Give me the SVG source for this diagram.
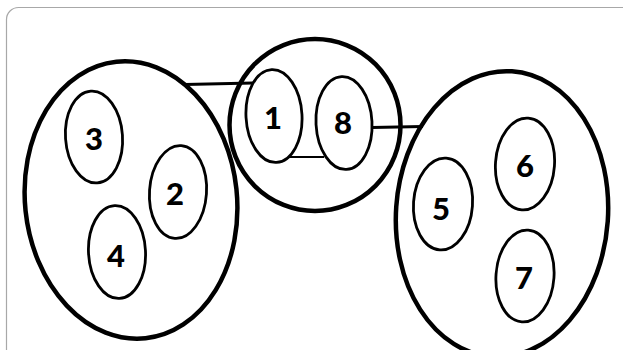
<svg xmlns="http://www.w3.org/2000/svg" width="623" height="350" viewBox="0 0 623 350">
<style>
.big{fill:none;stroke:#000;stroke-width:4.5}
.sm{fill:none;stroke:#000;stroke-width:2.8}
.lbl{font-family:Lato,"Liberation Sans",sans-serif;font-weight:900;font-size:31px;fill:#000;text-anchor:middle;dominant-baseline:central}
.con{stroke:#000;fill:none}
</style>
<rect x="0" y="0" width="623" height="350" fill="#fff"/>
<rect x="6.5" y="7.5" width="640" height="370" rx="12" fill="none" stroke="#a8a8a8" stroke-width="1.2"/>
<g id="group-left"><ellipse class="big" cx="131" cy="200" rx="106" ry="139" transform="rotate(-6 131 200)"/></g>
<g id="group-center"><ellipse class="big" cx="315" cy="125" rx="85.5" ry="86"/></g>
<g id="group-right"><ellipse class="big" cx="502" cy="214" rx="106" ry="143" transform="rotate(4 502 214)"/></g>
<g id="connectors">
<line class="con" stroke-width="2.8" x1="185" y1="84.5" x2="253" y2="83"/>
<line class="con" stroke-width="2.2" x1="288" y1="157" x2="324" y2="157"/>
<line class="con" stroke-width="2.8" x1="372" y1="127.5" x2="423" y2="126.5"/>
</g>
<g id="node-3"><ellipse class="sm" cx="94" cy="137" rx="28.5" ry="46" transform="rotate(-4 94 137)"/><text class="lbl" x="94" y="138">3</text></g>
<g id="node-2"><ellipse class="sm" cx="178" cy="192" rx="28.5" ry="46.5" transform="rotate(4 178 192)"/><text class="lbl" x="175" y="193">2</text></g>
<g id="node-4"><ellipse class="sm" cx="117" cy="252" rx="28.5" ry="46.5" transform="rotate(-3 117 252)"/><text class="lbl" x="116" y="255">4</text></g>
<g id="node-1"><ellipse class="sm" cx="274" cy="116" rx="28" ry="46.5" transform="rotate(-3 274 116)"/><text class="lbl" x="273" y="117">1</text></g>
<g id="node-8"><ellipse class="sm" cx="344" cy="123" rx="28" ry="46.5" transform="rotate(-3 344 123)"/><text class="lbl" x="343" y="122">8</text></g>
<g id="node-5"><ellipse class="sm" cx="443" cy="204" rx="29.5" ry="46" transform="rotate(4 443 204)"/><text class="lbl" x="441" y="208">5</text></g>
<g id="node-6"><ellipse class="sm" cx="525" cy="164" rx="29.5" ry="46" transform="rotate(4 525 164)"/><text class="lbl" x="525" y="165">6</text></g>
<g id="node-7"><ellipse class="sm" cx="525" cy="276" rx="29" ry="46" transform="rotate(4 525 276)"/><text class="lbl" x="524" y="277">7</text></g>
</svg>
